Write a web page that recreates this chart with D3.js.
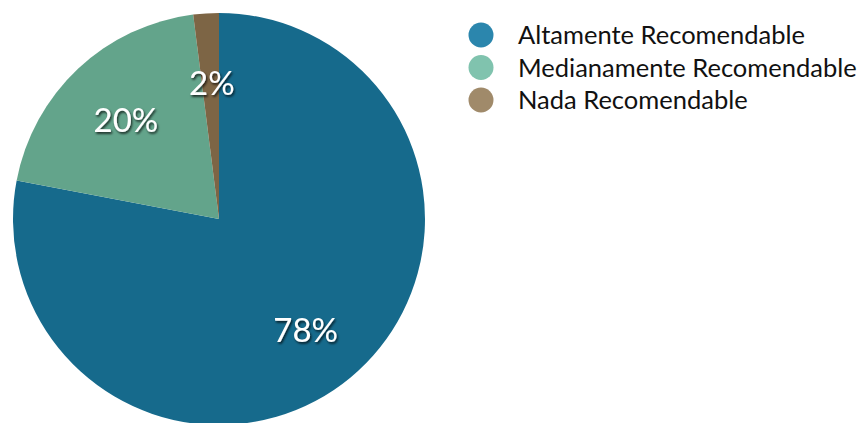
<!DOCTYPE html>
<html>
<head>
<meta charset="utf-8">
<script src="https://cdn.jsdelivr.net/npm/d3@7"></script>
<style>
  html, body { margin: 0; padding: 0; background: #ffffff; }
  svg { display: block; }
</style>
</head>
<body>
<svg id="chart" width="862" height="423"></svg>
<script>
// Survey answers: share of respondents per recommendation level (%)
const categories = ["Altamente Recomendable", "Medianamente Recomendable", "Nada Recomendable"];
const values = [78, 20, 2];
const labels = ["78%", "20%", "2%"];
const sliceColors = ["#166a8c", "#64a48b", "#7d6545"];
const legendColors = ["#2b86ad", "#80c3ae", "#a08a6a"];

const svg = d3.select("#chart");

const cx = 219, cy = 219, R = 206;

const defs = svg.append("defs");
const shadow = defs.append("filter").attr("id", "txtShadow")
  .attr("x", "-20%").attr("y", "-20%").attr("width", "140%").attr("height", "140%");
shadow.append("feDropShadow")
  .attr("dx", 1.2).attr("dy", 1.8).attr("stdDeviation", 1.2)
  .attr("flood-color", "#000").attr("flood-opacity", 0.75);

const soft = defs.append("filter").attr("id", "softEdge")
  .attr("x", "-5%").attr("y", "-5%").attr("width", "110%").attr("height", "110%");
soft.append("feGaussianBlur").attr("stdDeviation", 0.7);

const data = categories.map((c, i) => ({ name: c, value: values[i], label: labels[i], i }));

const pie = d3.pie().value(d => d.value).sort(null);
const arc = d3.arc().innerRadius(0).outerRadius(R);
const arcs = pie(data);

const g = svg.append("g").attr("transform", `translate(${cx},${cy})`);

g.append("g").attr("filter", "url(#softEdge)")
  .selectAll("path")
  .data(arcs)
  .join("path")
  .attr("d", arc)
  .attr("fill", d => sliceColors[d.data.i]);

// Label anchors (radius fraction, angular offset in radians) for each slice
const labelArc = [
  { rf: 0.685, da: 0.03 },
  { rf: 0.66, da: 0.0 },
  { rf: 0.66, da: 0.01 }
];

g.selectAll("text.pct")
  .data(arcs)
  .join("text")
  .attr("class", "pct")
  .attr("transform", d => {
    const p = labelArc[d.data.i];
    const a = (d.startAngle + d.endAngle) / 2 + p.da;
    const r = R * p.rf;
    return `translate(${Math.sin(a) * r},${-Math.cos(a) * r})`;
  })
  .attr("text-anchor", "middle")
  .attr("dy", "0.36em")
  .attr("fill", "#ffffff")
  .attr("font-family", "Lato, 'Open Sans', sans-serif")
  .attr("font-size", 33)
  .attr("filter", "url(#txtShadow)")
  .text(d => d.data.label);

// Legend
const legend = svg.append("g").attr("transform", "translate(481,35)");
const item = legend.selectAll("g")
  .data(data)
  .join("g")
  .attr("transform", (d, i) => `translate(0,${i * 32.5})`);

item.append("circle")
  .attr("r", 12.5)
  .attr("fill", d => legendColors[d.i]);

item.append("text")
  .attr("x", 37)
  .attr("dy", "0.36em")
  .attr("fill", "#111")
  .attr("font-family", "Lato, 'Open Sans', sans-serif")
  .attr("font-size", 25.5)
  .text(d => d.name);
</script>
</body>
</html>
